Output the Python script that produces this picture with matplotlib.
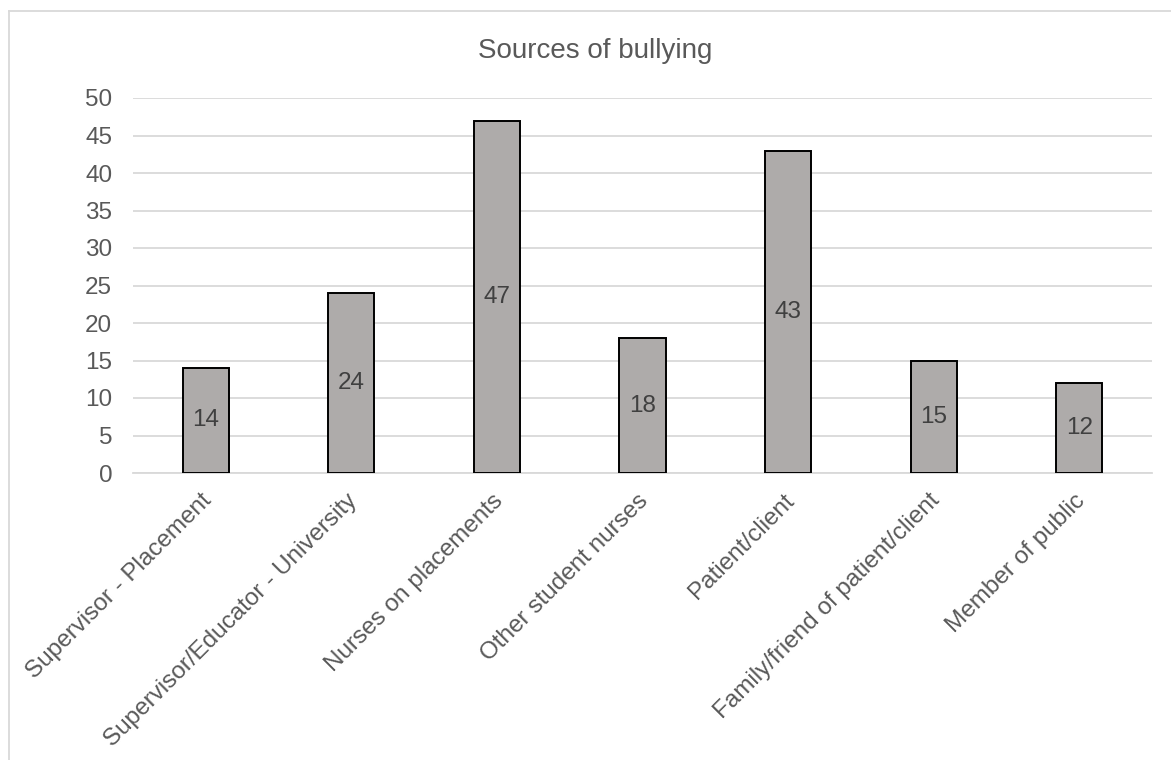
import matplotlib
matplotlib.use("Agg")
import matplotlib.pyplot as plt
from matplotlib.lines import Line2D
from matplotlib.transforms import ScaledTranslation

categories = [
    "Supervisor - Placement",
    "Supervisor/Educator - University",
    "Nurses on placements",
    "Other student nurses",
    "Patient/client",
    "Family/friend of patient/client",
    "Member of public",
]
counts = [14, 24, 47, 18, 43, 15, 12]
y_ticks = list(range(0, 51, 5))
title = "Sources of bullying"

plt.rcParams["font.family"] = ["Liberation Sans", "DejaVu Sans"]

W, H = 1171, 760
fig = plt.figure(figsize=(W / 100, H / 100), dpi=100)
fig.patch.set_facecolor("white")

# chart frame (left and top edges; the rest runs off the canvas)
frame_kw = dict(transform=fig.transFigure, color="#D9D9D9", linewidth=1.3)
fig.add_artist(Line2D([8.5 / W, 8.5 / W], [0, 1 - 10.5 / H], **frame_kw))
fig.add_artist(Line2D([8.5 / W, 1], [1 - 10.5 / H, 1 - 10.5 / H], **frame_kw))

left, right = 133, 1152
top, bottom = 98, 473
ax = fig.add_axes([left / W, 1 - bottom / H, (right - left) / W, (bottom - top) / H])

x = list(range(len(categories)))
ax.bar(x, counts, width=0.316, color="#AEABAA", edgecolor="black",
       linewidth=1.4, zorder=3)

for xi, v in zip(x, counts):
    ax.text(xi, v / 2, str(v), ha="center", va="center", fontsize=17.5,
            color="#404040", zorder=4)

ax.set_xlim(-0.5, len(categories) - 0.5)
ax.set_ylim(0, 50)
ax.set_yticks(y_ticks)
ax.yaxis.grid(True, color="#D9D9D9", linewidth=1.3, zorder=0)
ax.set_axisbelow(True)
for s in ["top", "right", "left"]:
    ax.spines[s].set_visible(False)
ax.spines["bottom"].set_color("#D9D9D9")
ax.spines["bottom"].set_linewidth(1.3)
ax.tick_params(axis="both", length=0, labelsize=17.5, labelcolor="#595959")
ax.tick_params(axis="y", pad=15)
ax.set_xticks(x)
ax.set_xticklabels(categories, rotation=45, ha="right", rotation_mode="anchor")
ax.tick_params(axis="x", pad=12)
shift = ScaledTranslation(-5 / 100, 0, fig.dpi_scale_trans)
for lbl in ax.get_xticklabels():
    lbl.set_transform(lbl.get_transform() + shift)

fig.text(595 / W, 1 - 51 / H, title, ha="center", va="center",
         fontsize=20, color="#595959")

fig.savefig("out.png", dpi=100)
